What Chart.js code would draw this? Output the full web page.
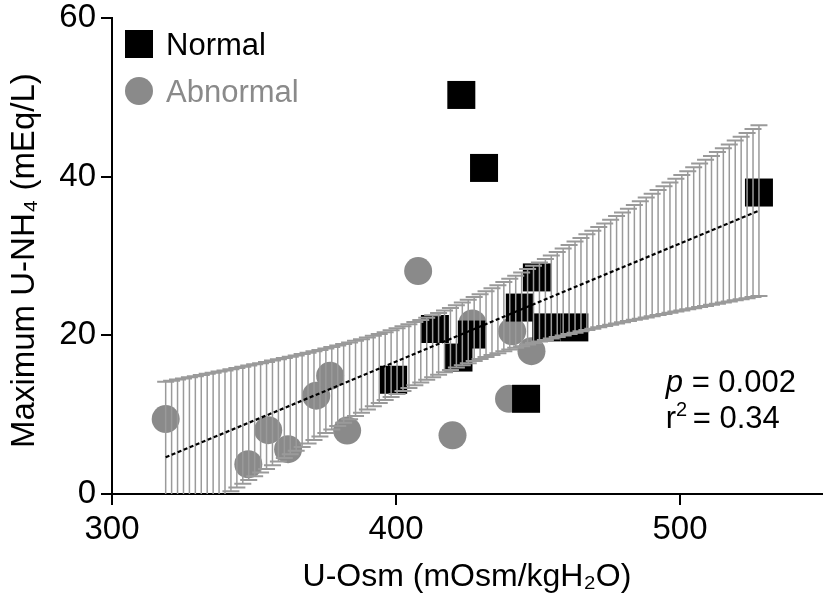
<!DOCTYPE html>
<html>
<head>
<meta charset="utf-8">
<script src="https://cdn.jsdelivr.net/npm/chart.js@4.4.1/dist/chart.umd.min.js"></script>
<style>
  html, body { margin: 0; padding: 0; background: #fff; }
  #wrap { width: 824px; height: 604px; }
</style>
</head>
<body>
<div id="wrap"><canvas id="chart1" width="824" height="604"></canvas></div>
<script>
// values
var normalX = [423, 431, 527.8, 449.6, 443.6, 452.9, 462.8, 413.7, 426.7, 422, 399, 445.8];
var normalY = [50.3, 41.1, 38.0, 27.3, 23.5, 21.0, 21.0, 20.8, 20.1, 17.2, 14.4, 12.0];
var abnormalX = [318.9, 348, 355, 362, 371.9, 376.8, 382.8, 407.8, 426.9, 440.9, 447.7, 439.8, 419.9];
var abnormalY = [9.45, 3.75, 8.05, 5.65, 12.4, 14.9, 8.0, 28.1, 21.5, 20.5, 18.0, 12.0, 7.4];
var xTicks = [300, 400, 500];
var yTicks = [0, 20, 40, 60];
var statLines = ['= 0.002', '= 0.34'];

var FONT = "'Liberation Sans', Arial, Helvetica, sans-serif";
var GREY = '#8a8a8a';

// least squares fit of all points + 95% confidence band (t, df = n-2)
var allX = normalX.concat(abnormalX);
var allY = normalY.concat(abnormalY);
var n = allX.length;
var mx = allX.reduce(function(a, b) { return a + b; }, 0) / n;
var my = allY.reduce(function(a, b) { return a + b; }, 0) / n;
var sxx = 0, sxy = 0, syy = 0;
for (var i = 0; i < n; i++) {
    sxx += (allX[i] - mx) * (allX[i] - mx);
    sxy += (allX[i] - mx) * (allY[i] - my);
    syy += (allY[i] - my) * (allY[i] - my);
}
var slope = sxy / sxx;
var icept = my - slope * mx;
var sRes = Math.sqrt((syy - sxy * sxy / sxx) / (n - 2));
var tCrit = 2.069; // df = 23
var xMin = Math.min.apply(null, allX);
var xMax = Math.max.apply(null, allX);
var bandSteps = 100;

function fit(x) { return icept + slope * x; }
function halfWidth(x) { return tCrit * sRes * Math.sqrt(1 / n + (x - mx) * (x - mx) / sxx); }

function pts(xs, ys) {
    return xs.map(function(x, k) { return { x: x, y: ys[k] }; });
}

var bandPlugin = {
    id: 'fitBand',
    beforeDatasetDraw: function(chart, args) {
        if (args.index !== 0) return;
        var ctx = chart.ctx, area = chart.chartArea;
        var xs = chart.scales.x, ys = chart.scales.y;
        ctx.save();
        ctx.beginPath();
        ctx.rect(area.left, area.top, area.right - area.left, area.bottom - area.top);
        ctx.clip();
        ctx.strokeStyle = '#9a9a9a';
        for (var k = 0; k <= bandSteps; k++) {
            var bx = xMin + (xMax - xMin) * k / bandSteps;
            var px = xs.getPixelForValue(bx);
            var hi = ys.getPixelForValue(fit(bx) + halfWidth(bx));
            var lo = ys.getPixelForValue(fit(bx) - halfWidth(bx));
            ctx.lineWidth = 1.5;
            ctx.beginPath();
            ctx.moveTo(px, hi);
            ctx.lineTo(px, lo);
            ctx.stroke();
            ctx.lineWidth = 2;
            ctx.beginPath();
            ctx.moveTo(px - 8.5, hi);
            ctx.lineTo(px + 8.5, hi);
            ctx.moveTo(px - 8.5, lo);
            ctx.lineTo(px + 8.5, lo);
            ctx.stroke();
        }
        ctx.restore();
    },
    afterDraw: function(chart) {
        var ctx = chart.ctx;
        var xs = chart.scales.x, ys = chart.scales.y;
        ctx.save();
        // legend
        ctx.fillStyle = '#000';
        ctx.fillRect(125, 30, 28, 28);
        ctx.font = '31px ' + FONT;
        ctx.textBaseline = 'alphabetic';
        ctx.fillText('Normal', 166, 55);
        ctx.fillStyle = GREY;
        ctx.beginPath();
        ctx.arc(139, 91, 14, 0, Math.PI * 2);
        ctx.fill();
        ctx.fillText('Abnormal', 166, 102);
        // stats
        var sx = xs.getPixelForValue(495);
        var y1 = ys.getPixelForValue(12.8), y2 = ys.getPixelForValue(8.3);
        ctx.fillStyle = '#000';
        ctx.font = 'italic 31px ' + FONT;
        ctx.fillText('p', sx, y1);
        var pw = ctx.measureText('p ').width;
        ctx.font = '31px ' + FONT;
        ctx.fillText(statLines[0], sx + pw, y1);
        ctx.fillText('r', sx, y2);
        var rw = ctx.measureText('r').width;
        ctx.font = '20px ' + FONT;
        ctx.fillText('2', sx + rw, y2 - 12);
        var tw = ctx.measureText('2 ').width;
        ctx.font = '31px ' + FONT;
        ctx.fillText(statLines[1], sx + rw + tw, y2);
        ctx.restore();
    }
};

var ctx = document.getElementById('chart1').getContext('2d');
var myChart = new Chart(ctx, {
    type: 'scatter',
    data: {
        datasets: [{
            label: 'fit',
            type: 'line',
            data: [{ x: xMin, y: fit(xMin) }, { x: xMax, y: fit(xMax) }],
            borderColor: '#000',
            borderWidth: 2.2,
            borderDash: [4, 2.5],
            pointRadius: 0,
            fill: false
        }, {
            label: 'Normal',
            data: pts(normalX, normalY),
            pointStyle: 'rect',
            pointRadius: 19.8,
            backgroundColor: '#000',
            borderColor: '#000',
            borderWidth: 0
        }, {
            label: 'Abnormal',
            data: pts(abnormalX, abnormalY),
            pointStyle: 'circle',
            pointRadius: 14,
            backgroundColor: GREY,
            borderColor: GREY,
            borderWidth: 0
        }]
    },
    options: {
        responsive: false,
        animation: false,
        layout: { autoPadding: false, padding: { top: 18, right: 2, left: 0, bottom: 0 } },
        plugins: {
            legend: { display: false },
            tooltip: { enabled: false }
        },
        scales: {
            x: {
                type: 'linear',
                min: 300,
                max: 550,
                afterFit: function(s) { s.height = 110; s.paddingLeft = 0; s.paddingRight = 0; },
                afterBuildTicks: function(s) { s.ticks = xTicks.map(function(v) { return { value: v }; }); },
                border: { display: true, color: '#000', width: 2 },
                grid: { drawOnChartArea: false, color: '#000', lineWidth: 2, tickLength: 11 },
                ticks: { color: '#000', font: { family: FONT, size: 33 }, padding: 5, maxRotation: 0 },
                title: {
                    display: true,
                    text: 'U-Osm (mOsm/kgH\u2082O)',
                    color: '#000',
                    font: { family: FONT, size: 32 },
                    padding: { top: 0, bottom: 8 }
                }
            },
            y: {
                min: 0,
                max: 60,
                afterFit: function(s) { s.width = 112; s.paddingTop = 0; s.paddingBottom = 0; },
                afterBuildTicks: function(s) { s.ticks = yTicks.map(function(v) { return { value: v }; }); },
                border: { display: true, color: '#000', width: 2 },
                grid: { drawOnChartArea: false, color: '#000', lineWidth: 2, tickLength: 11 },
                ticks: { color: '#000', font: { family: FONT, size: 33 }, padding: 5 },
                title: {
                    display: true,
                    text: 'Maximum U-NH\u2084 (mEq/L) ',
                    color: '#000',
                    font: { family: FONT, size: 33 },
                    padding: { top: 5, bottom: 0 }
                }
            }
        }
    },
    plugins: [bandPlugin]
});
</script>
</body>
</html>
